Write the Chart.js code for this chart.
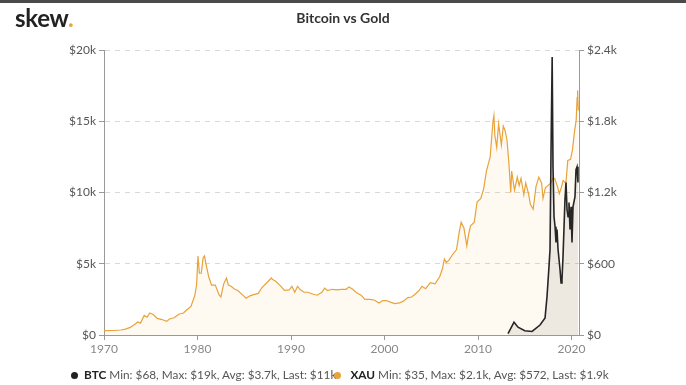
<!DOCTYPE html>
<html>
<head>
<meta charset="utf-8">
<script src="https://cdn.jsdelivr.net/npm/chart.js@4.4.0/dist/chart.umd.min.js"></script>
<style>
  html, body { margin: 0; padding: 0; background: #fff; }
  #wrap { position: relative; width: 686px; height: 385px; overflow: hidden; font-family: Lato, "Open Sans", sans-serif; }
  #topbar { position: absolute; left: 0; top: 0; width: 686px; height: 3px; background: #4a4a4a; }
  #logo { position: absolute; left: 15px; top: 3px; font-size: 24px; font-weight: 700; color: #222; letter-spacing: -0.3px; }
  #logo span { color: #e8a33a; }
  #title { position: absolute; left: 0; width: 686px; top: 9px; text-align: center; font-size: 14px; font-weight: 700; color: #333; }
  #legend { position: absolute; left: 71px; top: 367px; font-size: 11.8px; color: #555; white-space: nowrap; }
  #legend b { color: #222; }
  .dot { display: inline-block; width: 7px; height: 7px; border-radius: 50%; margin-right: 6px; vertical-align: 0px; }
  canvas { position: absolute; left: 0; top: 0; }
</style>
</head>
<body>
<div id="wrap">
  <canvas id="grafico" width="686" height="385"></canvas>
  <div id="topbar"></div>
  <div id="logo">skew<span>.</span></div>
  <div id="title">Bitcoin vs Gold</div>
  <div id="legend"><span class="dot" style="background:#222"></span><b>BTC</b> Min: $68, Max: $19k, Avg: $3.7k, Last: $11k<span class="dot" style="background:#e8a33a;margin-left:-2px"></span> <b>XAU</b> Min: $35, Max: $2.1k, Avg: $572, Last: $1.9k</div>
</div>
<script>
// dados (ano decimal -> valor em dolar)
const anosOuro = [1970.0, 1971.0, 1971.8, 1972.3, 1972.8, 1973.3, 1973.6, 1973.9, 1974.3, 1974.6, 1974.9, 1975.3, 1975.7, 1976.2, 1976.7, 1977.0, 1977.5, 1978.0, 1978.5, 1978.9, 1979.3, 1979.7, 1979.9, 1980.05, 1980.2, 1980.4, 1980.6, 1980.75, 1980.9, 1981.2, 1981.5, 1981.9, 1982.3, 1982.5, 1982.8, 1983.1, 1983.3, 1983.6, 1983.9, 1984.3, 1984.8, 1985.2, 1985.6, 1986.0, 1986.5, 1986.9, 1987.4, 1987.9, 1988.0, 1988.4, 1988.8, 1989.3, 1989.8, 1990.1, 1990.4, 1990.7, 1991.0, 1991.4, 1991.8, 1992.3, 1992.8, 1993.3, 1993.6, 1993.9, 1994.4, 1994.9, 1995.4, 1995.9, 1996.2, 1996.6, 1997.0, 1997.5, 1997.9, 1998.4, 1998.9, 1999.4, 1999.8, 2000.2, 2000.7, 2001.1, 2001.6, 2002.0, 2002.5, 2002.9, 2003.3, 2003.7, 2004.0, 2004.4, 2004.9, 2005.4, 2005.9, 2006.2, 2006.4, 2006.6, 2006.9, 2007.3, 2007.7, 2008.0, 2008.2, 2008.5, 2008.8, 2009.0, 2009.2, 2009.6, 2009.9, 2010.3, 2010.6, 2010.9, 2011.3, 2011.6, 2011.7, 2011.8, 2012.0, 2012.2, 2012.5, 2012.7, 2012.9, 2013.1, 2013.3, 2013.5, 2013.6, 2013.9, 2014.2, 2014.4, 2014.6, 2014.9, 2015.1, 2015.4, 2015.6, 2015.9, 2016.2, 2016.5, 2016.8, 2016.95, 2017.2, 2017.5, 2017.8, 2018.0, 2018.2, 2018.5, 2018.7, 2018.9, 2019.1, 2019.4, 2019.6, 2019.9, 2020.1, 2020.3, 2020.5, 2020.6, 2020.65, 2020.72];
const valoresOuro = [36, 38, 42, 50, 64, 90, 110, 100, 165, 150, 185, 170, 140, 130, 115, 135, 145, 175, 185, 215, 240, 330, 420, 665, 520, 520, 650, 665, 600, 490, 420, 420, 340, 320, 430, 480, 420, 410, 390, 375, 340, 310, 330, 340, 350, 400, 440, 480, 470, 450, 420, 375, 380, 410, 360, 410, 380, 360, 360, 345, 335, 360, 395, 375, 385, 380, 385, 385, 405, 385, 355, 335, 300, 300, 295, 270, 290, 290, 275, 265, 270, 285, 315, 320, 345, 375, 410, 390, 440, 430, 490, 560, 640, 610, 630, 680, 720, 870, 950, 900, 750, 850, 920, 950, 1120, 1150, 1230, 1380, 1500, 1800, 1850, 1680, 1580, 1780, 1600, 1760, 1720, 1640, 1450, 1200, 1380, 1220, 1330, 1260, 1320, 1180, 1280, 1190, 1100, 1060, 1250, 1330, 1280, 1150, 1240, 1260, 1280, 1320, 1320, 1250, 1190, 1240, 1300, 1280, 1470, 1480, 1560, 1700, 1810, 2000, 2060, 1890];

const anosBtc = [2013.21, 2013.85, 2014.28, 2015.0, 2015.78, 2016.63, 2017.17, 2017.38, 2017.59, 2017.70, 2017.81, 2017.93, 2018.02, 2018.13, 2018.24, 2018.34, 2018.45, 2018.56, 2018.77, 2018.88, 2018.98, 2019.09, 2019.30, 2019.41, 2019.52, 2019.63, 2019.73, 2019.84, 2019.95, 2020.05, 2020.16, 2020.37, 2020.48, 2020.59, 2020.69];
const valoresBtc = [100, 900, 550, 300, 250, 700, 1200, 2700, 4800, 6000, 13000, 19500, 11800, 8300, 7600, 6500, 7400, 6000, 4600, 3650, 3900, 5500, 9500, 10700, 8800, 8300, 9300, 7400, 9000, 6500, 9000, 9700, 11600, 11800, 10700];

const ticksAnos = [1970, 1980, 1990, 2000, 2010, 2020];
const ticksBtc = [0, 5000, 10000, 15000, 20000];
const ticksOuro = [0, 600, 1200, 1800, 2400];

function rotuloBtc(v) {
  return v === 0 ? '$0' : '$' + (v / 1000) + 'k';
}
function rotuloOuro(v) {
  return v < 1000 ? '$' + v : '$' + (v / 1000) + 'k';
}

const pontosOuro = anosOuro.map((a, i) => ({ x: a, y: valoresOuro[i] }));
const pontosBtc = anosBtc.map((a, i) => ({ x: a, y: valoresBtc[i] }));

const ctx = document.getElementById('grafico');

const graficoBtcOuro = new Chart(ctx, {
  type: 'line',
  data: {
    datasets: [
      {
        label: 'BTC',
        data: pontosBtc,
        yAxisID: 'yBtc',
        borderColor: '#262626',
        backgroundColor: 'rgba(90,85,75,0.10)',
        borderWidth: 1.6,
        fill: 'origin',
        pointRadius: 0,
        tension: 0,
        order: 0
      },
      {
        label: 'XAU',
        data: pontosOuro,
        yAxisID: 'yOuro',
        borderColor: '#e8a33a',
        backgroundColor: 'rgba(236,170,60,0.07)',
        borderWidth: 1.2,
        fill: 'origin',
        pointRadius: 0,
        tension: 0,
        order: 1
      }
    ]
  },
  options: {
    responsive: false,
    animation: false,
    layout: { padding: { left: 0, right: 0, top: 50, bottom: 0 } },
    plugins: { legend: { display: false }, tooltip: { enabled: false } },
    scales: {
      x: {
        type: 'linear',
        min: 1970,
        max: 2020.8,
        afterBuildTicks: s => { s.ticks = ticksAnos.map(v => ({ value: v })); },
        afterFit: s => { s.height = 50; },
        ticks: { color: '#888', font: { family: 'Lato', size: 12 }, padding: 2, maxRotation: 0, callback: v => String(v) },
        grid: { drawOnChartArea: false, drawTicks: true, tickLength: 5, color: '#999' },
        border: { color: '#999' }
      },
      yBtc: {
        position: 'left',
        min: 0,
        max: 20000,
        afterBuildTicks: s => { s.ticks = ticksBtc.map(v => ({ value: v })); },
        afterFit: s => { s.width = 104; },
        ticks: { color: '#555', font: { family: 'Lato', size: 12 }, padding: 3, callback: v => rotuloBtc(v) },
        grid: { color: '#d8d8d8', tickColor: '#999', tickLength: 5, tickBorderDash: [] },
        border: { color: '#999', dash: [5, 5] }
      },
      yOuro: {
        position: 'right',
        min: 0,
        max: 2400,
        afterBuildTicks: s => { s.ticks = ticksOuro.map(v => ({ value: v })); },
        afterFit: s => { s.width = 107; },
        ticks: { color: '#555', font: { family: 'Lato', size: 12 }, padding: 3, callback: v => rotuloOuro(v) },
        grid: { drawOnChartArea: false, tickColor: '#999', tickLength: 5 },
        border: { color: '#999' }
      }
    }
  }
});
</script>
</body>
</html>
